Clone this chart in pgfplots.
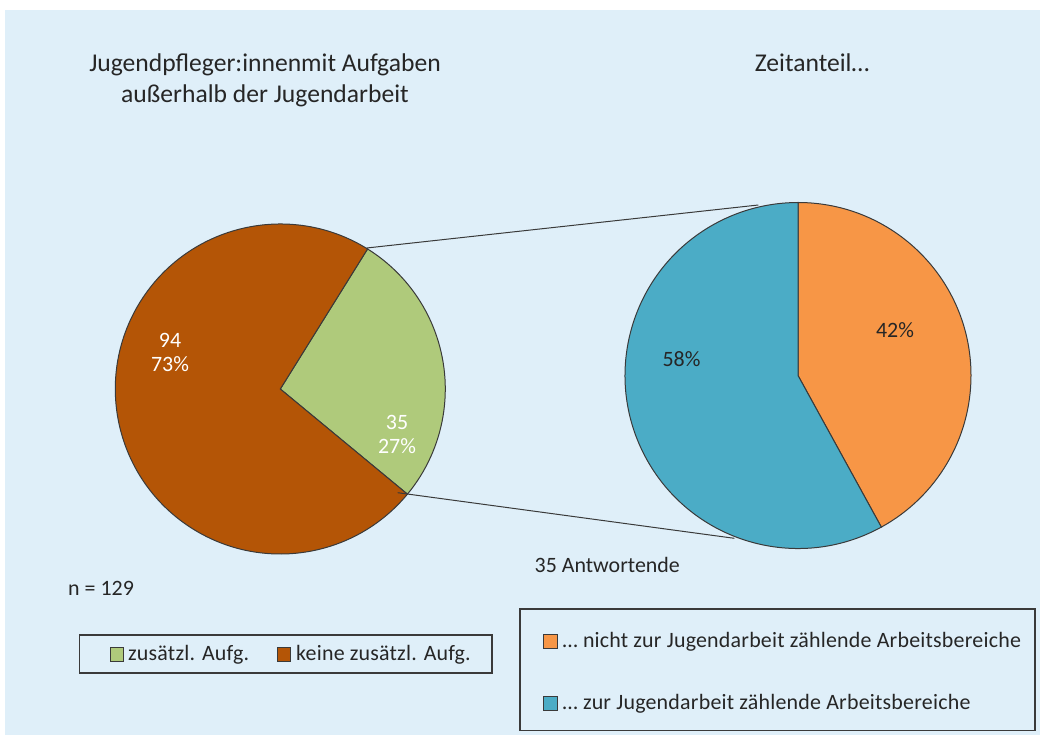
\documentclass[border=0pt]{standalone}
\usepackage{pgfplots}
\pgfplotsset{compat=1.18}
\usepackage{fontspec}
\setmainfont{Carlito}

\definecolor{bgblue}{HTML}{DFEFF9}
\definecolor{cbrown}{HTML}{B45506}
\definecolor{cgreen}{HTML}{AFCA7B}
\definecolor{corange}{HTML}{F79646}
\definecolor{cteal}{HTML}{4BACC6}
\definecolor{txt}{HTML}{262626}
\definecolor{edge}{HTML}{3A3A3A}

% left pie: counts
\def\nZus{35}
\def\nKeine{94}
% right pie: time share in percent
\def\pNicht{42}
\def\pZur{58}

\begin{document}
\begin{tikzpicture}
\begin{axis}[
  width=1043bp, height=735bp, scale only axis,
  xmin=0, xmax=1043, ymin=0, ymax=735, y dir=reverse,
  hide axis, clip=false,
]
\pgfmathsetmacro{\total}{\nZus+\nKeine}
\pgfmathsetmacro{\aStart}{-39.6}
\pgfmathsetmacro{\aMid}{\aStart+360*\nZus/\total}
\pgfmathsetmacro{\aEnd}{\aStart+360}
\pgfmathsetmacro{\bStart}{90}
\pgfmathsetmacro{\bMid}{90-3.6*\pNicht}
\pgfmathsetmacro{\bEnd}{90-3.6*(\pNicht+\pZur)}

% background
\fill[white] (axis cs:0,0) rectangle (axis cs:1043,735);
\fill[bgblue] (axis cs:5,10) rectangle (axis cs:1040,735);

% left pie
\filldraw[fill=cgreen, draw=edge, line width=1bp] (axis cs:280.3,389)
  -- ++(\aStart:165bp) arc[start angle=\aStart, end angle=\aMid, radius=165bp] -- cycle;
\filldraw[fill=cbrown, draw=edge, line width=1bp] (axis cs:280.3,389)
  -- ++(\aMid:165bp) arc[start angle=\aMid, end angle=\aEnd, radius=165bp] -- cycle;

% right pie
\filldraw[fill=corange, draw=edge, line width=1bp] (axis cs:798,375.5)
  -- ++(\bStart:173bp) arc[start angle=\bStart, end angle=\bMid, radius=173bp] -- cycle;
\filldraw[fill=cteal, draw=edge, line width=1bp] (axis cs:798,375.5)
  -- ++(\bMid:173bp) arc[start angle=\bMid, end angle=\bEnd, radius=173bp] -- cycle;

% connector lines
\draw[edge, line width=1bp] (axis cs:366.7,248) -- (axis cs:758.3,205);
\draw[edge, line width=1bp] (axis cs:397.7,492.7) -- (axis cs:734.3,538.3);

% slice labels
\begin{scope}[every node/.style={font=\fontsize{22}{25}\selectfont, align=center, inner sep=0pt}]
\node[white] at (axis cs:170,352.5) {\nKeine\\73\%};
\node[white] at (axis cs:397,434.5) {\nZus\\27\%};
\node[txt] at (axis cs:895,330.5) {\pNicht\%};
\node[txt] at (axis cs:681.5,359.5) {\pZur\%};
\end{scope}

% titles
\node[txt, font=\fontsize{25.7}{31}\selectfont, align=center, anchor=base, inner sep=0pt]
  at (axis cs:265,102.5) {Jugendpfleger:innenmit Aufgaben\\außerhalb der Jugendarbeit};
\node[txt, font=\fontsize{25.7}{31}\selectfont, anchor=base, inner sep=0pt]
  at (axis cs:812,71.5) {Zeitanteil…};

% notes
\node[txt, font=\fontsize{22}{25}\selectfont, anchor=base west, inner sep=0pt]
  at (axis cs:68,595) {n = 129};
\node[txt, font=\fontsize{22}{25}\selectfont, anchor=base west, inner sep=0pt]
  at (axis cs:534.5,572) {35 Antwortende};

% left legend
\draw[edge, line width=1.2bp] (axis cs:79.5,635) rectangle (axis cs:492,673);
\filldraw[fill=cgreen, draw=edge, line width=0.9bp] (axis cs:110,647.5) rectangle (axis cs:123,661);
\node[txt, font=\fontsize{22}{25}\selectfont\addfontfeature{LetterSpace=1}, anchor=base west, inner sep=0pt]
  at (axis cs:128,660) {zusätzl. Aufg.};
\filldraw[fill=cbrown, draw=edge, line width=0.9bp] (axis cs:277.5,647.5) rectangle (axis cs:290.5,661);
\node[txt, font=\fontsize{22}{25}\selectfont\addfontfeature{LetterSpace=1}, anchor=base west, inner sep=0pt]
  at (axis cs:296,660) {keine zusätzl. Aufg.};

% right legend
\draw[edge, line width=1.2bp] (axis cs:520,609) rectangle (axis cs:1035,730.5);
\filldraw[fill=corange, draw=edge, line width=0.9bp] (axis cs:543.5,634.5) rectangle (axis cs:557.5,648);
\node[txt, font=\fontsize{22}{25}\selectfont\addfontfeature{LetterSpace=1}, anchor=base west, inner sep=0pt]
  at (axis cs:562.5,647) {… nicht zur Jugendarbeit zählende Arbeitsbereiche};
\filldraw[fill=cteal, draw=edge, line width=0.9bp] (axis cs:543.5,696.5) rectangle (axis cs:557.5,710);
\node[txt, font=\fontsize{22}{25}\selectfont\addfontfeature{LetterSpace=1}, anchor=base west, inner sep=0pt]
  at (axis cs:562.5,709.5) {… zur Jugendarbeit zählende Arbeitsbereiche};
\end{axis}
\end{tikzpicture}
\end{document}
